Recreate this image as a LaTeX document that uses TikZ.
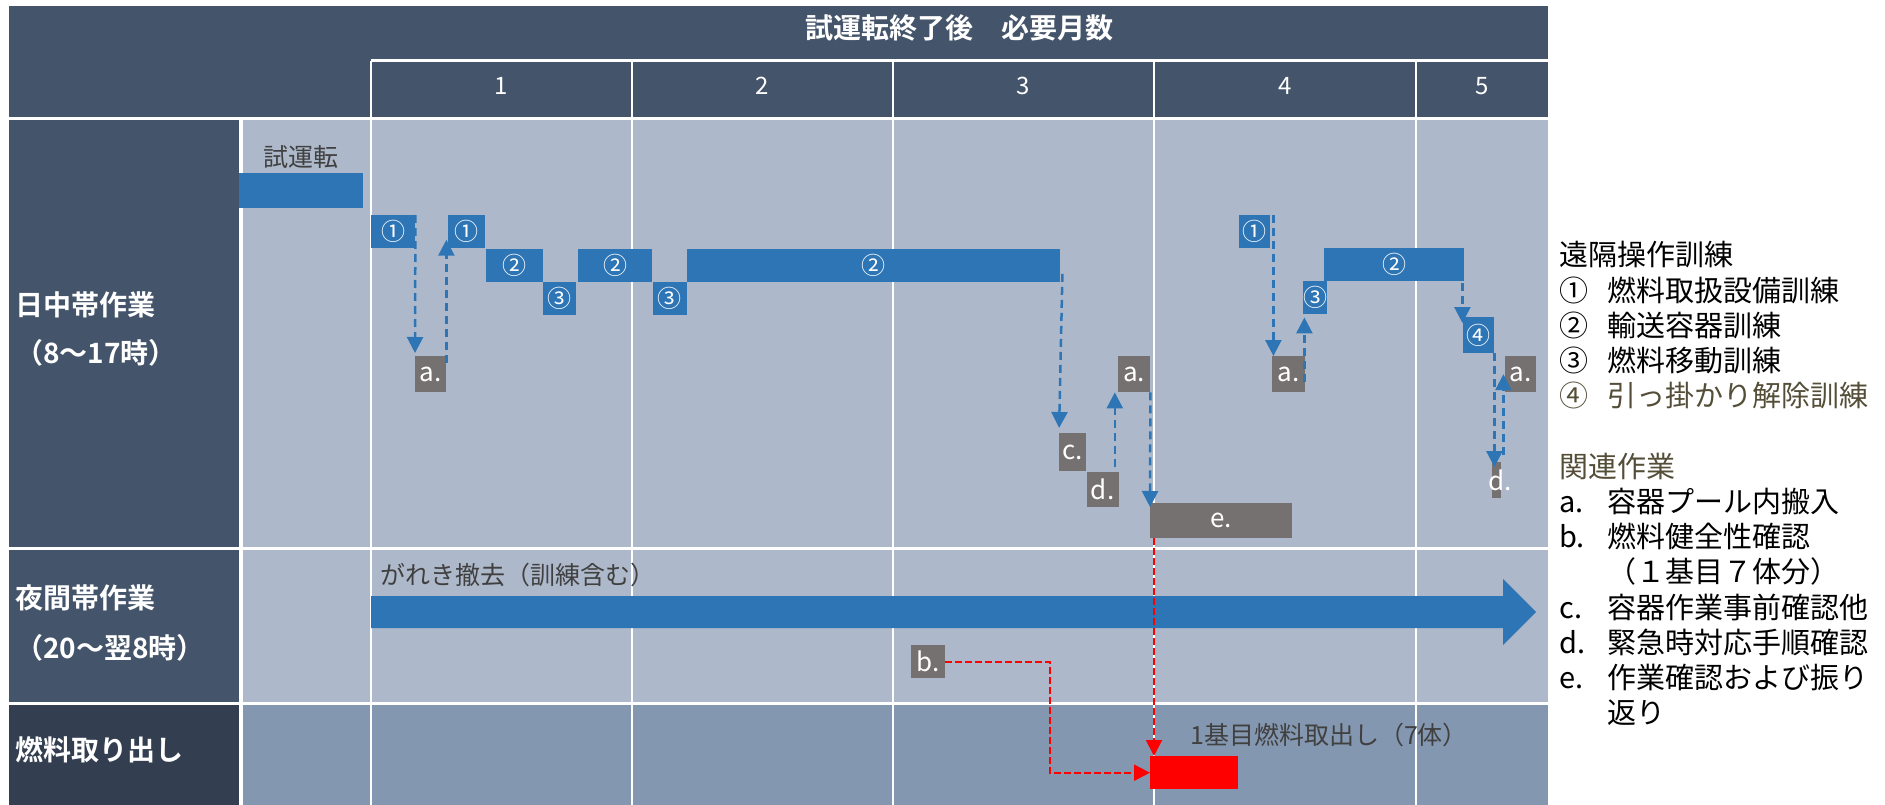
\documentclass[tikz,border=0pt]{standalone}
\usepackage{fontspec}
\setmainfont{Noto Sans CJK JP}[BoldFont={Noto Sans CJK JP Bold}]
\usetikzlibrary{positioning, calc, arrows.meta}
\definecolor{headblue}{HTML}{44546A}
\definecolor{fuelhead}{HTML}{333F50}
\definecolor{cellblue}{HTML}{ADB9CA}
\definecolor{fuelcell}{HTML}{8497B0}
\definecolor{barblue}{HTML}{2E75B6}
\definecolor{workgray}{HTML}{767171}
\definecolor{notegray}{HTML}{404040}
\definecolor{legolive}{HTML}{544E38}
\newcommand\legitem[2]{\makebox[48pt][l]{#1}#2}

\begin{document}
\begin{tikzpicture}[x=1pt,y=-1pt,
  bar/.style={rectangle,fill=barblue,text=white,inner sep=0pt,anchor=north west,minimum height=33pt,font=\fontsize{24}{24}\selectfont},
  work/.style={rectangle,fill=workgray,text=white,inner sep=0pt,anchor=north west,minimum height=36pt,font=\fontsize{26}{26}\selectfont},
  rowlab/.style={text=white,inner sep=0pt,anchor=west,font=\bfseries\fontsize{28}{28}\selectfont},
  note/.style={text=notegray,inner sep=0pt,font=\fontsize{25}{25}\selectfont},
  legend/.style={text=black,inner sep=0pt,anchor=west,font=\fontsize{29}{29}\selectfont},
  dasharrow/.style={barblue,line width=2.5pt,dash pattern=on 8pt off 5pt,-{Triangle[length=16pt,width=16pt]}},
  redarrow/.style={red,line width=2pt,dash pattern=on 7pt off 3pt,-{Triangle[length=16pt,width=16pt]}}]
\useasboundingbox (0,0) rectangle (1885,805);
% table
\fill[headblue] (9,6) rectangle (1548,117);
\fill[headblue] (9,120) rectangle (239,547);
\fill[headblue] (9,550) rectangle (239,702);
\fill[fuelhead] (9,705) rectangle (239,805);
\fill[cellblue] (243,120) rectangle (1548,547);
\fill[cellblue] (243,550) rectangle (1548,702);
\fill[fuelcell] (243,705) rectangle (1548,805);
\draw[white,line width=3pt] (371,61) -- (1548,61);
\foreach \x in {371,632,893,1154,1416}
  \draw[white,line width=2.5pt] (\x,61) -- (\x,805);
\node[rowlab,anchor=center] (title) at (959,28) {試運転終了後　必要月数};
\foreach \m/\xa/\xb in {1/371/632,2/632/893,3/893/1154,4/1154/1416,5/1416/1548}
  \node[text=white,font=\fontsize{24}{24}\selectfont] (m\m) at ({(\xa+\xb)/2},86) {\m};
\node[rowlab] (day) at (15,305) {日中帯作業};
\node[rowlab] (dayhrs) at (15,353) {（8～17時）};
\node[rowlab] (night) at (15,598) {夜間帯作業};
\node[rowlab] (nighthrs) at (15,648) {（20～翌8時）};
\node[rowlab] (fuellab) at (15,750) {燃料取り出し};
% daytime work
\node[bar,minimum width=124pt,minimum height=35pt] (trial) at (239,173) {};
\node[note,above=4pt of trial] (trialtxt) {試運転};
\node[bar,minimum width=44pt] (c1a) at (371,215) {①};
\node[bar,minimum width=37pt] (c1b) at (448,215) {①};
\node[bar,minimum width=57pt] (r2a) at (c1b.south east) {②};
\node[bar,minimum width=33pt] (c3a) at (r2a.south east) {③};
\node[bar,minimum width=74pt,anchor=south west] (r2b) at ($(c3a.north east)+(2,0)$) {②};
\node[bar,minimum width=34pt] (c3b) at (r2b.south east) {③};
\node[bar,minimum width=373pt,anchor=south west] (r2c) at (c3b.north east) {②};
\node[bar,minimum width=31pt] (c1c) at (1239,215) {①};
\node[bar,minimum width=24pt] (c3c) at (1303,281) {③};
\node[bar,minimum width=140pt] (r2d) at (1324,248) {②};
\node[bar,minimum width=31pt,minimum height=36pt] (c4) at (1463,317) {④};
\node[work,minimum width=31pt] (a1) at (415,356) {a.};
\node[work,minimum width=27pt,minimum height=38pt] (cc) at (1059,433) {c.};
\node[work,minimum width=32pt,minimum height=35pt] (dd1) at (cc.south east) {d.};
\node[work,minimum width=32pt] (a2) at (1118,356) {a.};
\node[work,minimum width=142pt,minimum height=35pt] (ee) at (1150,503) {e.};
\node[work,minimum width=33pt] (a3) at (1272,356) {a.};
\node[work,minimum width=9pt,label={[text=white,font=\fontsize{26}{26}\selectfont,xshift=3pt]center:d.}] (dd2) at (1492,462) {};
\node[work,minimum width=31pt] (a4) at (1505,356) {a.};
% night work and fuel
\fill[barblue] (371,596) -- (1503,596) -- (1503,579) -- (1536,612) -- (1503,645) -- (1503,628) -- (371,628) -- cycle;
\node[note,anchor=west] (debris) at (380,575) {がれき撤去（訓練含む）};
\node[work,minimum width=34pt,minimum height=33pt] (bb) at (911,645) {b.};
\node[fill=red,inner sep=0pt,anchor=north west,minimum width=88pt,minimum height=33pt] (fuel) at (1150,756) {};
\node[note,anchor=west] (first) at (1190,735) {1基目燃料取出し（7体）};
% links
\draw[dasharrow,shorten >=3pt] (c1a.north east) -- (a1.north west);
\draw[dasharrow] ($(a1.north east)+(0,7)$) -- ($(a1.north east |- c1b.west)+(0,8)$);
\draw[dasharrow,shorten >=5pt] ($(r2c.south east)+(2,-8)$) -- (cc.north west);
\coordinate (dtop) at ($(dd1.north east)+(-4,-4)$);
\draw[dasharrow] (dtop) -- (dtop |- a2.south);
\draw[dasharrow] (a2.south east) -- ($(ee.north west)+(0,4)$);
\coordinate (c1cr) at ($(c1c.north east)+(3,0)$);
\draw[dasharrow] (c1cr) -- (c1cr |- a3.north);
\coordinate (a3r) at ($(a3.north east)+(-1,26)$);
\draw[dasharrow,shorten >=3pt] (a3r) -- (a3r |- c3c.south);
\coordinate (r2dr) at ($(r2d.south east)+(-2,2)$);
\draw[dasharrow] (r2dr) -- ($(r2dr |- c4.north)+(0,6)$);
\draw[dasharrow] (c4.south east) -- ($(c4.south east |- dd2.north)+(0,5)$);
\coordinate (ddr) at ($(dd2.north east)+(2,-7)$);
\draw[dasharrow] (ddr) -- (ddr |- a4.west);
\draw[redarrow] ($(ee.south west)+(4,0)$) -- ($(fuel.north west)+(4,0)$);
\draw[redarrow] (bb.east) -- ++(105,0) |- (fuel.west);
% legend
\foreach \k/\txt in {0/遠隔操作訓練, 1/{\legitem{①}{燃料取扱設備訓練}}, 2/{\legitem{②}{輸送容器訓練}}, 3/{\legitem{③}{燃料移動訓練}}, 4/{\color{legolive}\legitem{④}{引っ掛かり解除訓練}}, 6/{\color{legolive}関連作業}, 7/{\legitem{a.}{容器プール内搬入}}, 8/{\legitem{b.}{燃料健全性確認}}, 9/{\legitem{}{（１基目７体分）}}, 10/{\legitem{c.}{容器作業事前確認他}}, 11/{\legitem{d.}{緊急時対応手順確認}}, 12/{\legitem{e.}{作業確認および振り}}, 13/{\legitem{}{返り}}}
  \node[legend] (leg\k) at (1559,{255+35.2*\k}) {\txt};
\end{tikzpicture}
\end{document}
